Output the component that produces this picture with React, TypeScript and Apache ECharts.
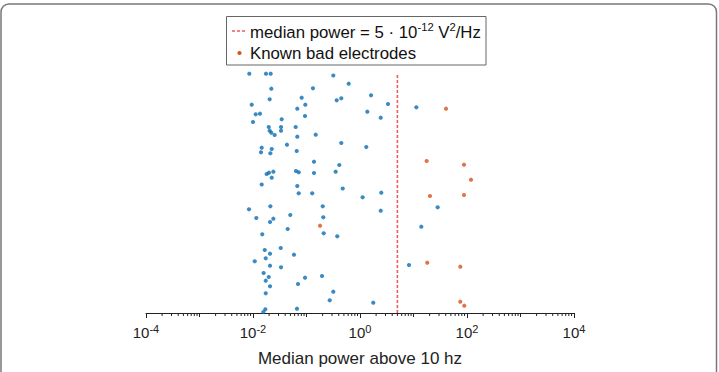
import React, { useEffect, useRef } from "react";
import * as echarts from "echarts";

// Median power (x) and vertical jitter position (y) of each electrode
const goodX = [
  0.00853, 0.0175, 0.0214, 0.317, 0.615, 0.022, 0.132, 1.61, 0.0205, 0.0813,
  0.367, 0.447, 3.34, 11.3, 0.00946, 0.095, 0.0673, 1.37, 0.01123, 0.0135,
  0.0938, 2.44, 0.01, 0.0344, 0.0197, 0.0334, 0.0628, 0.0205, 0.0334, 0.022,
  0.0254, 0.1486, 0.0673, 0.447, 0.0432, 1.31, 0.01455, 0.0224, 0.0141, 0.0211,
  0.0656, 0.138, 0.41, 0.351, 0.024, 0.0199, 0.018, 0.0636, 0.0715, 0.138,
  0.0224, 0.01455, 0.0673, 0.475, 0.0715, 0.128, 1.12, 2.5, 0.00842, 0.0211,
  0.201, 2.44, 28.3, 0.01153, 0.024, 0.0208, 0.0498, 0.206, 0.0445, 0.0149,
  0.21, 0.376, 14.0, 0.0166, 0.033, 0.0208, 0.0584, 0.0173, 0.01076, 0.0208,
  0.0334, 8.24, 0.0158, 0.0197, 0.0938, 0.195, 0.0173, 0.0208, 0.0694, 0.0173,
  0.317, 0.272, 1.77, 0.017, 0.0664, 0.0156,
];
const goodY = [
  239.3, 239.3, 239.3, 237.5, 229.3, 224.3, 224.7, 217.7, 213.7, 215.3,
  212.7, 214.7, 209, 205.7, 208.3, 208.3, 204.3, 201.3, 198.7, 199.3,
  197, 195.3, 191, 193.7, 186, 186, 186, 182.3, 182.3, 180.3,
  178, 178.3, 176.3, 170, 168.3, 166, 165.3, 164, 160.7, 159.7,
  162, 151.3, 148, 141.3, 141.3, 140.3, 139, 142, 140.7, 140,
  135.3, 128.5, 127, 124.5, 119.7, 119.7, 115.7, 120.3, 103.7, 106.7,
  106.7, 102.3, 105.7, 95, 94.3, 91, 98, 95.7, 84, 78.7,
  79.7, 76.7, 86.3, 63, 65, 59.3, 58.3, 54.7, 51.7, 47.3,
  45.7, 48, 40, 36, 35.3, 37, 32.3, 26.7, 29, 19.7,
  21.3, 12.7, 10.3, 3.7, 4.3, 1,
];
const badX = [40.5, 17.6, 87.9, 118.8, 20.3, 87.9, 0.179, 18.1, 75.0, 75.0, 89.0];
const badY = [204.3, 152, 148.3, 133.3, 117, 118, 87.3, 50.3, 46.3, 11.3, 7.3];

const medianPower = 5;
const medianLineY = [0, 240];
const xMin = 1e-4;
const xMax = 1e4;
const minorDigits = [2, 3, 4, 5, 6, 7, 8, 9];
const decades = [-4, -3, -2, -1, 0, 1, 2, 3];
const oddDecadeTicks = [1e-3, 1e-1, 1e1, 1e3];

const xTitle = "Median power above 10 hz";
const legendBad = "Known bad electrodes";

const RED = "#f05a5a";
const BLUE = "#0a6db3";
const ORANGE = "#d6531a";

export default function App() {
  const ref = useRef<HTMLDivElement>(null);

  useEffect(() => {
    if (!ref.current) return;
    const chart = echarts.init(ref.current, null, { renderer: "svg" });

    const minorTicks: number[][] = [];
    decades.forEach((k) =>
      minorDigits.forEach((d) => minorTicks.push([d * Math.pow(10, k), 0, 3]))
    );
    oddDecadeTicks.forEach((v) => minorTicks.push([v, 0, 4]));

    const font = "Liberation Sans, Arial, Helvetica, sans-serif";

    chart.setOption({
      animation: false,
      backgroundColor: "#ffffff",
      grid: { left: 146, right: 145, top: 63, bottom: 59, containLabel: false },
      xAxis: {
        type: "log",
        logBase: 10,
        min: xMin,
        max: xMax,
        interval: 2,
        splitLine: { show: false },
        axisLine: { show: true, lineStyle: { color: "#222", width: 1 } },
        axisTick: { show: true, inside: false, length: 5, lineStyle: { color: "#222" } },
        minorTick: { show: false },
        axisLabel: {
          margin: 10,
          fontFamily: font,
          color: "#222",
          formatter: (v: number) => {
            const e = Math.round(Math.log10(v));
            return `{b|10}{s|${e}}`;
          },
          rich: {
            b: { fontSize: 15, fontFamily: font, color: "#222", verticalAlign: "bottom", lineHeight: 17 },
            s: { fontSize: 11, fontFamily: font, color: "#222", verticalAlign: "top", lineHeight: 17, padding: [0, 0, 8, 0] },
          },
        },
        name: xTitle,
        nameLocation: "middle",
        nameGap: 37,
        nameTextStyle: { fontSize: 17, fontFamily: font, color: "#222" },
      },
      yAxis: { type: "value", min: 0, max: 250, show: false },
      series: [
        {
          type: "custom",
          name: "ticks",
          silent: true,
          clip: false,
          data: minorTicks,
          renderItem: (params: any, api: any) => {
            const p = api.coord([api.value(0), 0]);
            const len = api.value(2);
            return {
              type: "line",
              shape: { x1: p[0], y1: p[1], x2: p[0], y2: p[1] + len },
              style: { stroke: "#222", lineWidth: 1 },
            };
          },
          z: 1,
        },
        {
          type: "line",
          name: "median",
          data: medianLineY.map((y) => [medianPower, y]),
          symbol: "none",
          color: RED,
          lineStyle: { color: RED, width: 1.6, type: [3, 2] },
          z: 2,
        },
        {
          type: "scatter",
          name: "good",
          data: goodX.map((x, i) => [x, goodY[i]]),
          symbolSize: 4.2,
          itemStyle: { color: BLUE },
          z: 3,
        },
        {
          type: "scatter",
          name: legendBad,
          data: badX.map((x, i) => [x, badY[i]]),
          symbolSize: 4.2,
          itemStyle: { color: ORANGE },
          z: 3,
        },
      ],
      graphic: [
        {
          type: "rect",
          shape: { x: 1, y: 4, width: 715.5, height: 420, r: 8 },
          style: { fill: "none", stroke: "#777", lineWidth: 1.5 },
          silent: true,
        },
        {
          type: "rect",
          shape: { x: 226.5, y: 16.5, width: 259.5, height: 48.5 },
          style: { fill: "#fff", stroke: "#666", lineWidth: 1 },
          silent: true,
        },
        {
          type: "line",
          shape: { x1: 232, y1: 31, x2: 247, y2: 31 },
          style: { stroke: RED, lineWidth: 1.6, lineDash: [3, 2] },
          silent: true,
        },
        {
          type: "circle",
          shape: { cx: 239.5, cy: 53, r: 2.1 },
          style: { fill: ORANGE },
          silent: true,
        },
        {
          type: "text",
          x: 250,
          y: 31,
          style: {
            text: "{n|median power = 5 · 10}{s|-12}{n| V}{s|2}{n|/Hz}",
            fontFamily: font,
            verticalAlign: "middle",
            rich: {
              n: { fontSize: 16.8, fontFamily: font, fill: "#111", verticalAlign: "bottom", lineHeight: 20 },
              s: { fontSize: 11.2, fontFamily: font, fill: "#111", verticalAlign: "top", lineHeight: 20, padding: [0, 0, 9, 0] },
            },
          },
          silent: true,
        },
        {
          type: "text",
          x: 250,
          y: 53,
          style: {
            text: legendBad,
            fontFamily: font,
            fontSize: 16.8,
            fill: "#111",
            verticalAlign: "middle",
          },
          silent: true,
        },
      ],
    });

    return () => chart.dispose();
  }, []);

  return (
    <div
      ref={ref}
      style={{ position: "fixed", left: 0, top: 0, width: 719, height: 372 }}
    />
  );
}
